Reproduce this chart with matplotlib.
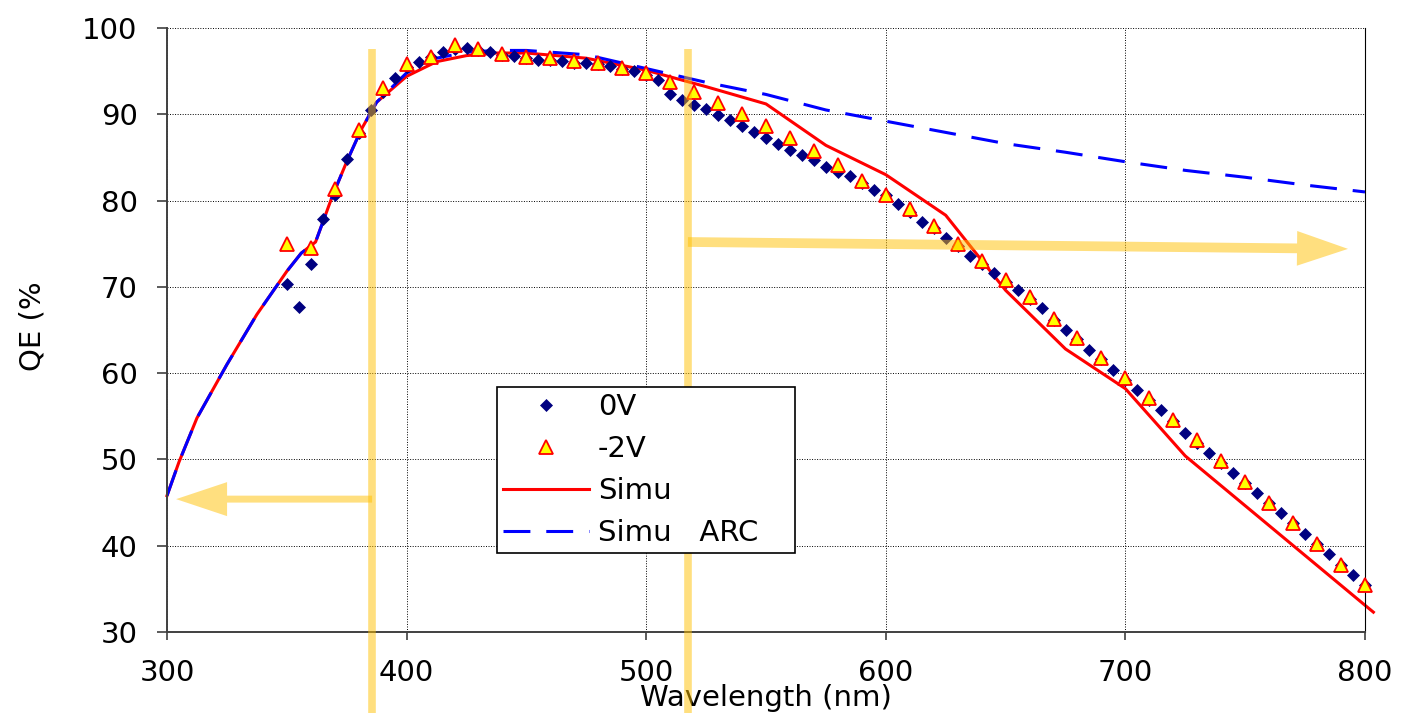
import matplotlib
matplotlib.use("Agg")
import matplotlib.pyplot as plt
from matplotlib.patches import FancyArrowPatch, ArrowStyle

plt.rcParams['font.family'] = ['DejaVu Sans']

# ---------------- measured QE, 0 V bias (every 5 nm) ----------------
wl_0v = list(range(350, 801, 5))
qe_0v = [70.3, 67.7, 72.7, 77.9, 80.6, 84.8, 87.8, 90.5, 92.6, 94.2,
         95.5, 96.1, 96.6, 97.2, 97.6, 97.7, 97.4, 97.2, 96.9, 96.7,
         96.5, 96.3, 96.3, 96.2, 96.0, 95.9, 95.8, 95.6, 95.3, 95.0,
         94.5, 94.0, 92.4, 91.7, 91.1, 90.6, 89.9, 89.3, 88.6, 87.9,
         87.3, 86.6, 85.9, 85.3, 84.7, 83.9, 83.3, 82.9, 82.0, 81.2,
         80.6, 79.6, 78.7, 77.5, 76.8, 75.7, 74.7, 73.6, 72.6, 71.6,
         70.6, 69.6, 68.6, 67.5, 66.2, 65.0, 63.9, 62.7, 61.6, 60.4,
         59.2, 58.0, 56.9, 55.7, 54.4, 53.1, 51.9, 50.7, 49.6, 48.4,
         47.3, 46.1, 45.0, 43.8, 42.6, 41.3, 40.2, 39.0, 37.8, 36.6,
         35.4]

# ---------------- measured QE, -2 V bias (every 10 nm) ----------------
wl_2v = list(range(350, 801, 10))
qe_2v = [75.0, 74.5, 81.3, 88.2, 93.0, 95.8, 96.6, 98.0, 97.6, 97.0,
         96.6, 96.5, 96.2, 96.0, 95.4, 94.8, 93.7, 92.6, 91.3, 90.0,
         88.7, 87.2, 85.8, 84.1, 82.3, 80.6, 79.0, 77.0, 75.0, 73.0,
         70.8, 68.8, 66.3, 64.1, 61.7, 59.4, 57.1, 54.6, 52.2, 49.8,
         47.4, 45.0, 42.6, 40.2, 37.8, 35.5]

# ---------------- simulation ----------------
sim_wl = [300, 305, 312.5, 325, 337.5, 350, 356, 362, 369, 375, 381, 387.5,
          400, 412.5, 425, 437.5, 450, 475, 500, 525, 550, 575, 600, 625,
          650, 675, 700, 725, 800, 803.5]
sim_qe = [45.8, 49.7, 54.8, 61.0, 66.8, 71.8, 73.9, 75.2, 80.5, 84.5, 88.2, 91.4,
          94.4, 96.1, 96.8, 97.1, 97.1, 96.5, 95.1, 93.2, 91.2, 86.4, 83.0, 78.3,
          69.6, 62.8, 58.2, 50.4, 33.1, 32.3]

# ---------------- simulation with ARC ----------------
arc_wl = [300, 305, 312.5, 325, 337.5, 350, 356, 362, 369, 375, 381, 387.5,
          400, 412.5, 425, 437.5, 450, 475, 500, 525, 550, 575, 600, 625,
          650, 675, 700, 725, 750, 775, 800]
arc_qe = [45.8, 49.7, 54.8, 61.0, 66.8, 71.8, 73.9, 75.2, 80.5, 84.5, 88.2, 91.4,
          94.8, 96.5, 97.2, 97.4, 97.4, 96.9, 95.3, 93.7, 92.3, 90.5, 89.2, 87.9,
          86.6, 85.6, 84.5, 83.5, 82.7, 81.8, 81.0]

legend_labels = ['0V', '-2V', 'Simu', 'Simu   ARC']
x_ticks = [300, 400, 500, 600, 700, 800]
y_ticks = [30, 40, 50, 60, 70, 80, 90, 100]

# annotation geometry (data units)
band_uv_x = 385.6
band_vis_x = 517.4
band_top = 97.55
band_bottom = 15.0
arrow_left = ((band_uv_x, 45.4), (303.8, 45.4))
arrow_right = ((band_vis_x, 75.2), (792.9, 74.4))
hilite = '#FFC000'

fig = plt.figure(figsize=(14.05, 7.13), dpi=100)
ax = fig.add_axes([167 / 1405, 1 - 632 / 713, 1198 / 1405, 604 / 713])

line_sim, = ax.plot(sim_wl, sim_qe, color='#FF0000', lw=2.2, zorder=2, clip_on=False)
line_arc, = ax.plot(arc_wl, arc_qe, color='#0000FF', lw=2.2, dashes=(8.8, 5.2), zorder=2.1)
pts_0v, = ax.plot(wl_0v, qe_0v, ls='none', marker='D', ms=6.0, color='#000080',
                  mec='#000080', mew=0.5, zorder=3, clip_on=False)
pts_2v, = ax.plot(wl_2v, qe_2v, ls='none', marker='^', ms=9.8, mfc='#FFFF00',
                  mec='#FF0000', mew=1.3, zorder=3.5, clip_on=False)

ax.set_xlim(300, 800)
ax.set_ylim(30, 100)
ax.set_xticks(x_ticks)
ax.set_yticks(y_ticks)
ax.grid(True, color='black', lw=0.7, ls=(0, (1, 1.6)))

ax.spines['top'].set_visible(False)
ax.spines['right'].set_color('black')
ax.spines['right'].set_linewidth(0.8)
for s in ('left', 'bottom'):
    ax.spines[s].set_color('#404040')
    ax.spines[s].set_linewidth(1.4)

ax.tick_params(axis='both', direction='out', color='#404040', width=1.2,
               labelsize=21)
ax.tick_params(axis='x', length=6, pad=13.5)
ax.tick_params(axis='y', length=7.2, pad=14)

ax.set_xlabel('Wavelength (nm)', fontsize=21)
ax.xaxis.set_label_coords(0.5, -0.086)
ax.set_ylabel('QE (%', fontsize=21)
ax.yaxis.set_label_coords(-0.101, 0.507)

# highlighted wavelength bands and arrows
for bx in (band_uv_x, band_vis_x):
    ax.plot([bx, bx], [band_top, band_bottom], color=hilite, alpha=0.5,
            lw=5.5, solid_capstyle='butt', clip_on=False, zorder=4.5)

ax.add_patch(FancyArrowPatch(*arrow_left,
                             arrowstyle=ArrowStyle.Simple(head_length=36.7, head_width=24.5, tail_width=5.0),
                             mutation_scale=1, shrinkA=0, shrinkB=0, color=hilite,
                             alpha=0.5, lw=0, clip_on=False, zorder=4.5))
ax.add_patch(FancyArrowPatch(*arrow_right,
                             arrowstyle=ArrowStyle.Simple(head_length=36.7, head_width=25.0, tail_width=7.0),
                             mutation_scale=1, shrinkA=0, shrinkB=0, color=hilite,
                             alpha=0.5, lw=0, clip_on=False, zorder=4.5))

leg = ax.legend([pts_0v, pts_2v, line_sim, line_arc], legend_labels,
                loc='upper left',
                bbox_to_anchor=(0.2755, 0.1275, 298 / 1198, 168 / 604),
                mode='expand', fontsize=21, handlelength=2.95, handletextpad=0.3,
                labelspacing=0.48, borderpad=0.2, borderaxespad=0, numpoints=1,
                fancybox=False, framealpha=1, edgecolor='black')
leg.get_frame().set_linewidth(1.2)
leg.set_zorder(5)

fig.savefig('out.png', dpi=100)
